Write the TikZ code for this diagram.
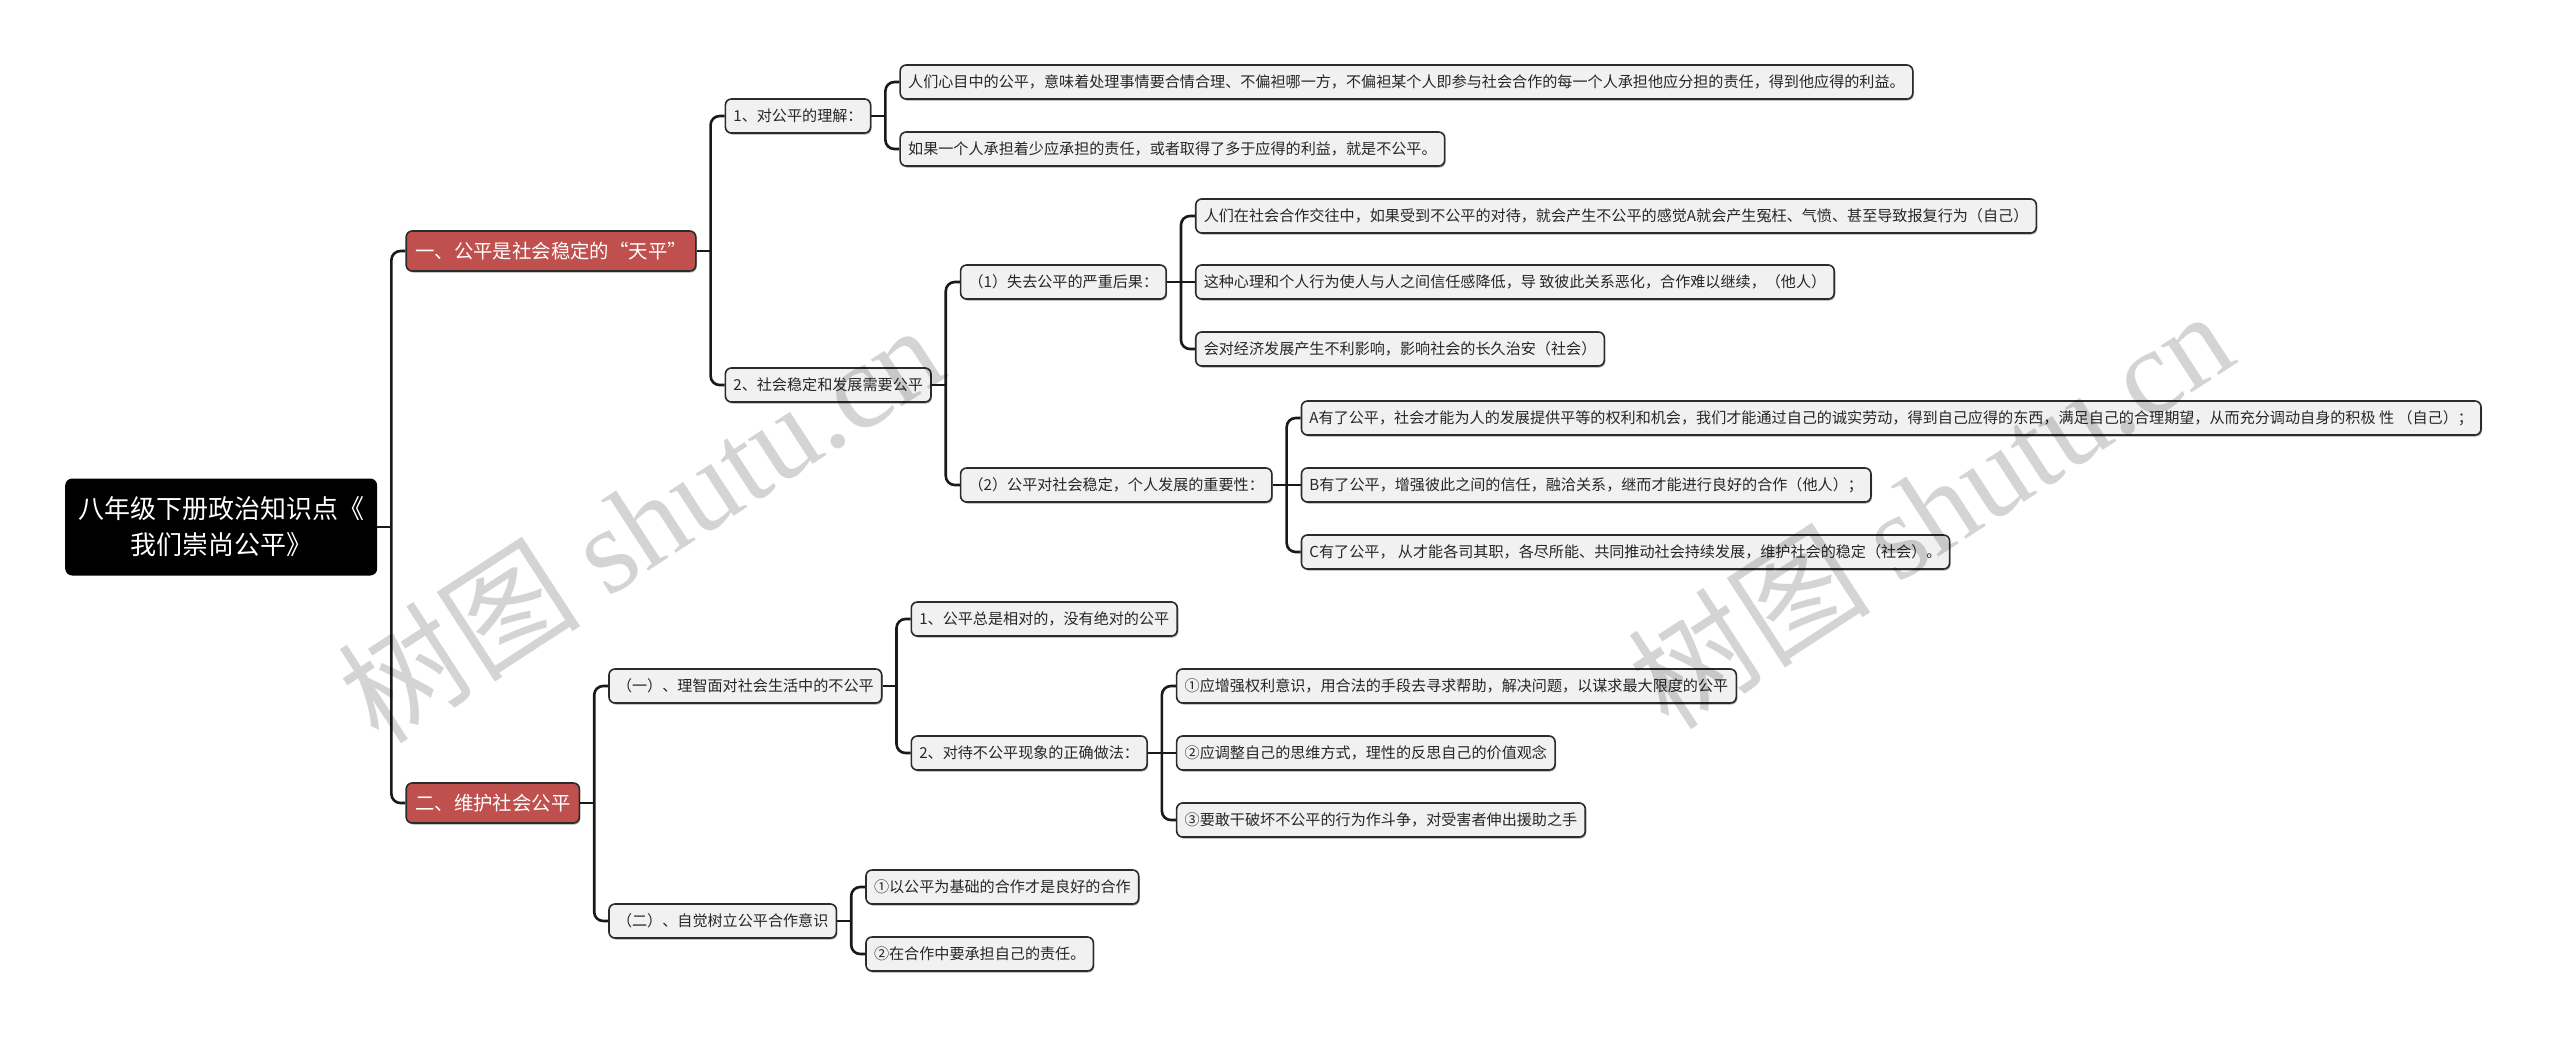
\documentclass[tikz,border=0pt]{standalone}
\usepackage{fontspec}
\setmainfont{Noto Sans CJK SC}
\newfontfamily\fwfont[RawFeature={+fwid}]{Noto Sans CJK SC}
\newfontfamily\wmlatin{Liberation Serif}
\usetikzlibrary{shadows}
\definecolor{topicred}{HTML}{C0504D}
\definecolor{leaffill}{HTML}{F1F1F1}
\definecolor{edgecol}{HTML}{2B2B2B}
\begin{document}
\begin{tikzpicture}[x=1pt,y=-1pt,
  base/.style={draw=edgecol, line width=1.6pt, rounded corners=6pt, anchor=west,
    inner xsep=8pt, inner ysep=0pt, minimum height=34pt,
    drop shadow={shadow xshift=1pt,shadow yshift=-1.5pt,opacity=0.35,fill=black}},
  leaf/.style={base, fill=leaffill, text=black!85, font=\fontsize{15.1}{18}\selectfont},
  topic/.style={base, fill=topicred, text=white, minimum height=40pt, inner xsep=9pt,
    font=\fontsize{19.4}{22}\selectfont},
  rootbox/.style={fill=black, text=white, rounded corners=7pt, anchor=west, align=center,
    minimum width=312pt, minimum height=97pt, inner sep=0pt, font=\fontsize{26}{36}\selectfont},
  conn/.style={draw=black!90, line width=2.6pt, rounded corners=9pt},
  wm/.style={text=black, opacity=0.17, rotate=33, inner sep=0pt, font=\fontsize{122}{130}\selectfont}
]
\fill[white] (0,0) rectangle (2560,1037);
\useasboundingbox (0,0) rectangle (2560,1037);

% root and topics
\node[rootbox] (root) at (65,527) {八年级下册政治知识点《\\我们崇尚公平》};
\node[topic] (n1) at ([xshift=28pt,yshift=276pt]root.east) {一、公平是社会稳定的{\fwfont “}天平{\fwfont ”}};
\node[topic] (n2) at ([xshift=28pt,yshift=-276pt]root.east) {二、维护社会公平};

% branch 1
\node[leaf] (a1) at ([xshift=28pt,yshift=135pt]n1.east) {1、对公平的理解：};
\node[leaf] (a2) at ([xshift=28pt,yshift=-134pt]n1.east) {2、社会稳定和发展需要公平};
\node[leaf] (a11) at ([xshift=28pt,yshift=34pt]a1.east) {人们心目中的公平，意味着处理事情要合情合理、不偏袒哪一方，不偏袒某个人即参与社会合作的每一个人承担他应分担的责任，得到他应得的利益。};
\node[leaf] (a12) at ([xshift=28pt,yshift=-33pt]a1.east) {如果一个人承担着少应承担的责任，或者取得了多于应得的利益，就是不公平。};
\node[leaf] (b1) at ([xshift=28pt,yshift=103pt]a2.east) {（1）失去公平的严重后果：};
\node[leaf] (b2) at ([xshift=28pt,yshift=-100pt]a2.east) {（2）公平对社会稳定，个人发展的重要性：};
\node[leaf] (b11) at ([xshift=28pt,yshift=66pt]b1.east) {人们在社会合作交往中，如果受到不公平的对待，就会产生不公平的感觉A就会产生冤枉、气愤、甚至导致报复行为（自己）};
\node[leaf] (b12) at ([xshift=28pt]b1.east) {这种心理和个人行为使人与人之间信任感降低，导 致彼此关系恶化，合作难以继续，（他人）};
\node[leaf] (b13) at ([xshift=28pt,yshift=-67pt]b1.east) {会对经济发展产生不利影响，影响社会的长久治安（社会）};
\node[leaf] (b21) at ([xshift=28pt,yshift=67pt]b2.east) {A有了公平，社会才能为人的发展提供平等的权利和机会，我们才能通过自己的诚实劳动，得到自己应得的东西，满足自己的合理期望，从而充分调动自身的积极 性 （自己）；};
\node[leaf] (b22) at ([xshift=28pt]b2.east) {B有了公平，增强彼此之间的信任，融洽关系，继而才能进行良好的合作（他人）；};
\node[leaf] (b23) at ([xshift=28pt,yshift=-67pt]b2.east) {C有了公平， 从才能各司其职，各尽所能、共同推动社会持续发展，维护社会的稳定（社会）。};

% branch 2
\node[leaf] (c1) at ([xshift=28pt,yshift=117pt]n2.east) {（一）、理智面对社会生活中的不公平};
\node[leaf] (c2) at ([xshift=28pt,yshift=-118pt]n2.east) {（二）、自觉树立公平合作意识};
\node[leaf] (d1) at ([xshift=28pt,yshift=67pt]c1.east) {1、公平总是相对的，没有绝对的公平};
\node[leaf] (d2) at ([xshift=28pt,yshift=-67pt]c1.east) {2、对待不公平现象的正确做法：};
\node[leaf] (d21) at ([xshift=28pt,yshift=67pt]d2.east) {①应增强权利意识，用合法的手段去寻求帮助，解决问题，以谋求最大限度的公平};
\node[leaf] (d22) at ([xshift=28pt]d2.east) {②应调整自己的思维方式，理性的反思自己的价值观念};
\node[leaf] (d23) at ([xshift=28pt,yshift=-67pt]d2.east) {③要敢干破坏不公平的行为作斗争，对受害者伸出援助之手};
\node[leaf] (e1) at ([xshift=28pt,yshift=34pt]c2.east) {①以公平为基础的合作才是良好的合作};
\node[leaf] (e2) at ([xshift=28pt,yshift=-33pt]c2.east) {②在合作中要承担自己的责任。};

% connectors
\draw[conn] (root.east) -- ++(14,0) coordinate (jr);
\draw[conn] (jr) |- (n1.west);
\draw[conn] (jr) |- (n2.west);

\draw[conn] (n1.east) -- ++(14,0) coordinate (jn1);
\draw[conn] (jn1) |- (a1.west);
\draw[conn] (jn1) |- (a2.west);

\draw[conn] (a1.east) -- ++(14,0) coordinate (ja1);
\draw[conn] (ja1) |- (a11.west);
\draw[conn] (ja1) |- (a12.west);

\draw[conn] (a2.east) -- ++(14,0) coordinate (ja2);
\draw[conn] (ja2) |- (b1.west);
\draw[conn] (ja2) |- (b2.west);

\draw[conn] (b1.east) -- ++(14,0) coordinate (jb1);
\draw[conn] (jb1) |- (b11.west);
\draw[conn] (jb1) -- (b12.west);
\draw[conn] (jb1) |- (b13.west);

\draw[conn] (b2.east) -- ++(14,0) coordinate (jb2);
\draw[conn] (jb2) |- (b21.west);
\draw[conn] (jb2) -- (b22.west);
\draw[conn] (jb2) |- (b23.west);

\draw[conn] (n2.east) -- ++(14,0) coordinate (jn2);
\draw[conn] (jn2) |- (c1.west);
\draw[conn] (jn2) |- (c2.west);

\draw[conn] (c1.east) -- ++(14,0) coordinate (jc1);
\draw[conn] (jc1) |- (d1.west);
\draw[conn] (jc1) |- (d2.west);

\draw[conn] (d2.east) -- ++(14,0) coordinate (jd2);
\draw[conn] (jd2) |- (d21.west);
\draw[conn] (jd2) -- (d22.west);
\draw[conn] (jd2) |- (d23.west);

\draw[conn] (c2.east) -- ++(14,0) coordinate (jc2);
\draw[conn] (jc2) |- (e1.west);
\draw[conn] (jc2) |- (e2.west);

% watermarks
\node[wm] (wm1) at (640,522) {树图 {\wmlatin shutu.cn}};
\node[wm] (wm2) at (1930,508) {树图 {\wmlatin shutu.cn}};
\end{tikzpicture}
\end{document}
